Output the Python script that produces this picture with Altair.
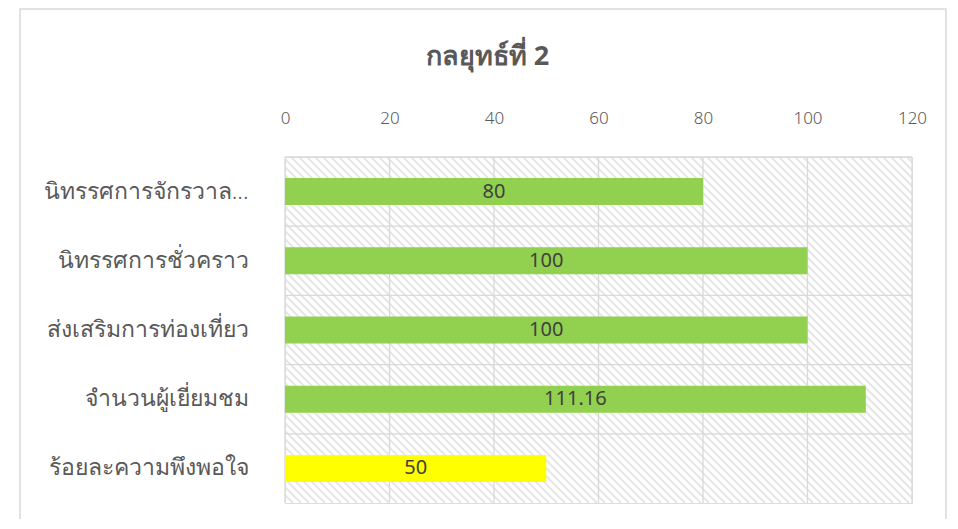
import altair as alt
import pandas as pd

categories = ["นิทรรศการจักรวาล...", "นิทรรศการชั่วคราว", "ส่งเสริมการท่องเที่ยว", "จำนวนผู้เยี่ยมชม", "ร้อยละความพึงพอใจ"]
values = [80, 100, 100, 111.16, 50]
bar_colors = ["#92D050", "#92D050", "#92D050", "#92D050", "#FFFF00"]
x_ticks = [0, 20, 40, 60, 80, 100, 120]

W, H = 627, 346
FONT = "Noto Sans"

df = pd.DataFrame({"cat": categories, "val": values, "color": bar_colors})
df["mid"] = df["val"] / 2
ticks_df = pd.DataFrame({"t": x_ticks})
cats_df = pd.DataFrame({"cat": categories})
frame_df = pd.DataFrame({"k": [0]})

xscale = alt.Scale(domain=[0, 120], nice=False, zero=True)
yscale = alt.Scale(domain=categories, paddingInner=0, paddingOuter=0)

xaxis = alt.Axis(orient="top", values=x_ticks, grid=False, domain=False, ticks=False,
                 labelPadding=30, labelFontSize=17, labelFontWeight=300, labelColor="#595959",
                 labelFont=FONT, labelFlush=False, title=None)
yaxis = alt.Axis(grid=False, domain=False, ticks=False, labelPadding=37,
                 labelFontSize=23, labelFontWeight=300, labelColor="#595959", labelFont=FONT,
                 labelLimit=300, title=None)

# hatch background (decoration) in pixel space
hatch = alt.Chart().transform_calculate(
    x2=alt.datum.i + H
).mark_rule(color="#e6e6e6", strokeWidth=2.0, clip=True).encode(
    x=alt.X("i:Q", scale=alt.Scale(domain=[0, W], nice=False, zero=False), axis=None),
    x2="x2:Q",
    y=alt.value(0),
    y2=alt.value(H),
)
hatch = alt.layer(hatch, data=alt.sequence(start=-H, stop=W + 8, step=8, as_="i"))

vgrid = alt.Chart(ticks_df).mark_rule(color="#d9d9d9", strokeWidth=1.3).encode(
    x=alt.X("t:Q", scale=xscale, axis=xaxis),
)

hgrid = alt.Chart(cats_df).mark_rule(color="#d9d9d9", strokeWidth=1.3).encode(
    y=alt.Y("cat:N", scale=yscale, sort=None, bandPosition=0, axis=yaxis),
)

bars = alt.Chart(df).mark_bar(size=27).encode(
    x=alt.X("val:Q", scale=xscale, axis=xaxis),
    y=alt.Y("cat:N", scale=yscale, sort=None, axis=yaxis),
    color=alt.Color("color:N", scale=None),
)

labels = alt.Chart(df).mark_text(fontSize=20, color="#404040", font=FONT).encode(
    x=alt.X("mid:Q", scale=xscale, axis=xaxis),
    y=alt.Y("cat:N", scale=yscale, sort=None, axis=yaxis),
    text=alt.Text("val:Q"),
)

# outer chart frame (decoration)
frame = alt.Chart(frame_df).mark_rect(fill=None, stroke="#d9d9d9", strokeWidth=1.5, clip=False).encode(
    x=alt.value(-265), x2=alt.value(661), y=alt.value(-148), y2=alt.value(380),
)

main = alt.layer(frame, vgrid, hgrid, bars, labels)

chart = alt.layer(hatch, main).resolve_scale(x="independent").properties(
    width=W, height=H,
    padding={"left": 277, "top": 149, "right": 36, "bottom": 16},
    autosize=alt.AutoSizeParams(type="none"),
    title=alt.TitleParams("กลยุทธ์ที่ 2", fontSize=27, fontWeight="bold", color="#595959",
                          font=FONT, anchor="middle", dx=-111, offset=-63),
).configure_view(stroke="#d9d9d9", strokeWidth=1.3).configure(background="white")

chart.save("out.html", embed_options={"renderer": "svg", "actions": False})
